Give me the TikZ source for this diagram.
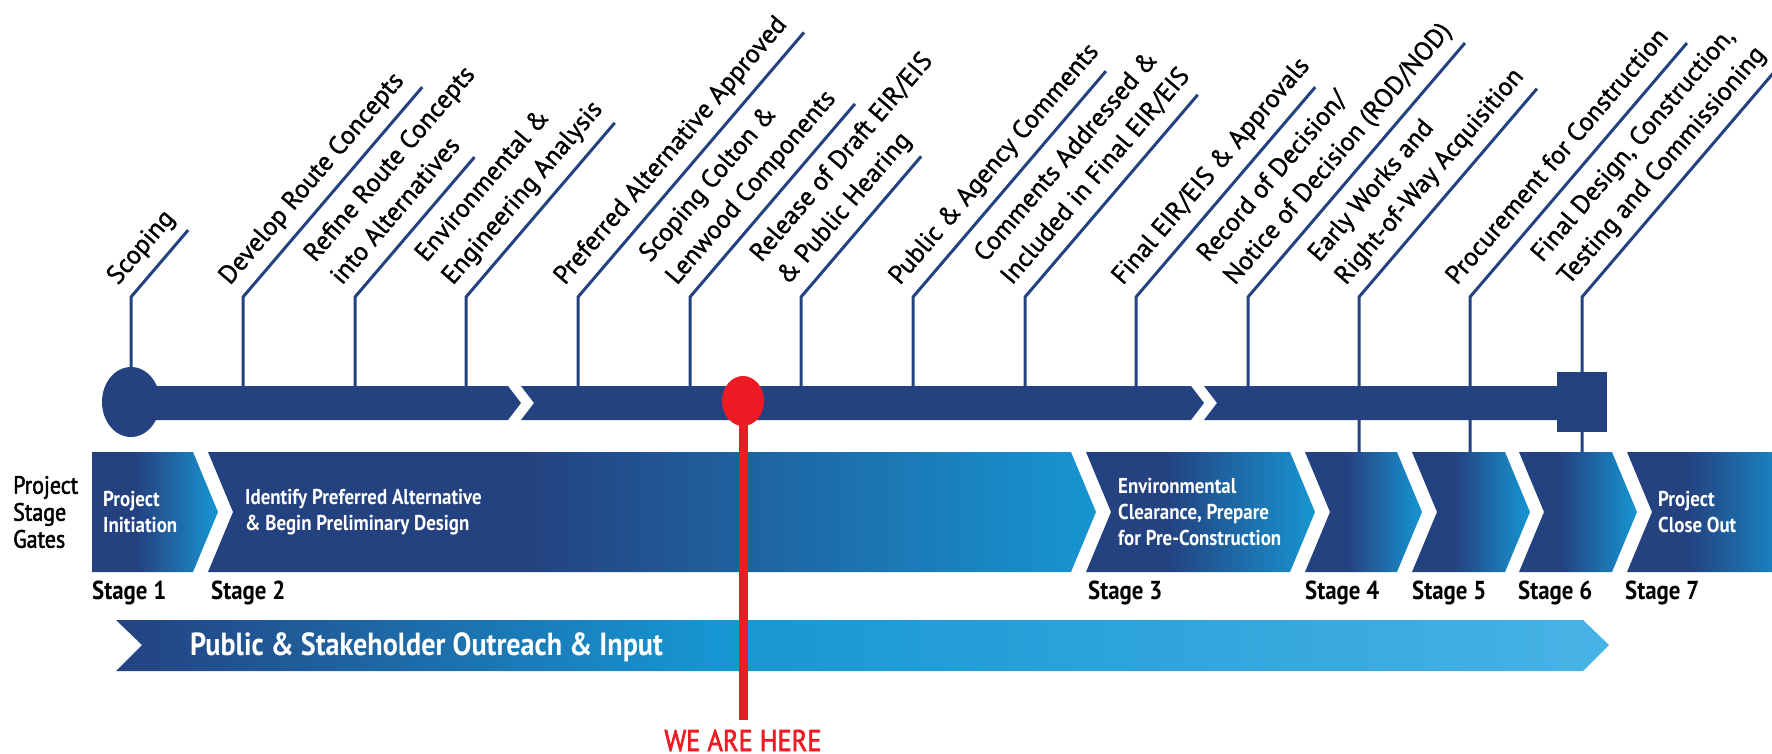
\documentclass[tikz,border=0pt]{standalone}
\usepackage{fontspec}
\setmainfont{PT Sans}
\newfontfamily\condfont[FakeStretch=0.88]{PT Sans}
\newfontfamily\semicond[FakeStretch=0.88, FakeBold=2]{PT Sans}
\newfontfamily\lblfont[FakeBold=1.2]{PT Sans}
\usetikzlibrary{calc}

\definecolor{navy}{RGB}{36,66,128}
\definecolor{tipblue}{RGB}{22,150,210}
\definecolor{skyblue}{RGB}{72,179,229}
\definecolor{herered}{RGB}{237,28,36}

\pgfdeclarehorizontalshading{gatefade}{100bp}{color(0bp)=(navy); color(25bp)=(navy); color(43bp)=(navy); color(75bp)=(tipblue); color(100bp)=(tipblue)}
\pgfdeclarehorizontalshading{reachfade}{100bp}{color(0bp)=(navy); color(25bp)=(navy); color(45bp)=(tipblue); color(75bp)=(skyblue); color(100bp)=(skyblue)}

\tikzset{
  stem/.style={navy, line width=3pt},
  lbl/.style={rotate=49.5, anchor=south west, yshift=6.5pt, inner sep=0pt, align=left,
    font=\lblfont\fontsize{26}{35}\selectfont, execute at end node=\strut},
  gatetext/.style={anchor=west, inner sep=0pt, align=left, text=white,
    font=\condfont\bfseries\fontsize{21.5}{26}\selectfont},
  stagelbl/.style={anchor=base west, inner sep=0pt, font=\condfont\bfseries\fontsize{26}{30}\selectfont},
}

\begin{document}
\begin{tikzpicture}[x=1pt,y=1pt]
  \useasboundingbox (0,0) rectangle (1772,-754);
  \clip (0,0) rectangle (1772,-754);
  \path
    (131,-297) coordinate (e1)
    (243,-297) coordinate (e2)
    (355,-297) coordinate (e3)
    (466,-297) coordinate (e4)
    (578,-297) coordinate (e5)
    (690,-297) coordinate (e6)
    (801,-297) coordinate (e7)
    (913,-297) coordinate (e8)
    (1025,-297) coordinate (e9)
    (1136,-297) coordinate (e10)
    (1248,-297) coordinate (e11)
    (1359,-297) coordinate (e12)
    (1470,-297) coordinate (e13)
    (1582,-297) coordinate (e14);
  \path
    (131,-403) coordinate (b1)
    (243,-403) coordinate (b2)
    (355,-403) coordinate (b3)
    (466,-403) coordinate (b4)
    (578,-403) coordinate (b5)
    (690,-403) coordinate (b6)
    (801,-403) coordinate (b7)
    (913,-403) coordinate (b8)
    (1025,-403) coordinate (b9)
    (1136,-403) coordinate (b10)
    (1248,-403) coordinate (b11)
    (1359,-452) coordinate (b12)
    (1470,-452) coordinate (b13)
    (1582,-452) coordinate (b14);
  \begin{scope}[stem]
    \draw (b1) -- (e1) -- ++(49.5:88);
    \draw (b2) -- (e2) -- ++(49.5:276);
    \draw (b3) -- (e3) -- ++(49.5:184);
    \draw (b4) -- (e4) -- ++(49.5:229);
    \draw (b5) -- (e5) -- ++(49.5:348);
    \draw (b6) -- (e6) -- ++(49.5:254);
    \draw (b7) -- (e7) -- ++(49.5:185);
    \draw (b8) -- (e8) -- ++(49.5:297);
    \draw (b9) -- (e9) -- ++(49.5:266);
    \draw (b10) -- (e10) -- ++(49.5:276);
    \draw (b11) -- (e11) -- ++(49.5:334);
    \draw (b12) -- (e12) -- ++(49.5:274);
    \draw (b13) -- (e13) -- ++(49.5:334);
    \draw (b14) -- (e14) -- ++(49.5:320);
  \end{scope}
  \node[lbl] (scoping) at (e1) {Scoping};
  \node[lbl] (develop) at (e2) {Develop Route Concepts};
  \node[lbl] (refine) at (e3) {Refine Route Concepts\\into Alternatives};
  \node[lbl] (envir) at (e4) {Environmental \&\\Engineering Analysis};
  \node[lbl] (preferred) at (e5) {Preferred Alternative Approved};
  \node[lbl] (colton) at (e6) {Scoping Colton \&\\Lenwood Components};
  \node[lbl] (release) at (e7) {Release of Draft EIR/EIS\\\& Public Hearing};
  \node[lbl] (pubcomm) at (e8) {Public \& Agency Comments};
  \node[lbl] (addressed) at (e9) {Comments Addressed \&\\Included in Final EIR/EIS};
  \node[lbl] (finaleir) at (e10) {Final EIR/EIS \& Approvals};
  \node[lbl] (record) at (e11) {Record of Decision/\\Notice of Decision (ROD/NOD)};
  \node[lbl] (earlyworks) at (e12) {Early Works and\\Right-of-Way Acquisition};
  \node[lbl] (procure) at (e13) {Procurement for Construction};
  \node[lbl] (finaldesign) at (e14) {Final Design, Construction,\\Testing and Commissioning};

  \fill[navy] (131,-402) ellipse [x radius=29, y radius=35];
  \fill[navy] (131,-386) -- (508,-386) -- (521,-403) -- (508,-420) -- (131,-420) -- cycle;
  \fill[navy] (521,-386) -- (1191,-386) -- (1204,-403) -- (1191,-420) -- (521,-420) -- (534,-403) -- cycle;
  \fill[navy] (1204,-386) -- (1590,-386) -- (1590,-420) -- (1204,-420) -- (1217,-403) -- cycle;
  \fill[navy] (1557,-372) rectangle (1607,-432);

  \shade[shading=gatefade] (92,-452) -- (193,-452) -- (218,-512) -- (193,-572) -- (92,-572) -- cycle;
  \shade[shading=gatefade] (208,-452) -- (1071,-452) -- (1096,-512) -- (1071,-572) -- (208,-572) -- (233,-512) -- cycle;
  \shade[shading=gatefade] (1086,-452) -- (1290,-452) -- (1315,-512) -- (1290,-572) -- (1086,-572) -- (1111,-512) -- cycle;
  \shade[shading=gatefade] (1305,-452) -- (1397,-452) -- (1422,-512) -- (1397,-572) -- (1305,-572) -- (1330,-512) -- cycle;
  \shade[shading=gatefade] (1412,-452) -- (1505,-452) -- (1530,-512) -- (1505,-572) -- (1412,-572) -- (1437,-512) -- cycle;
  \shade[shading=gatefade] (1519,-452) -- (1612,-452) -- (1637,-512) -- (1612,-572) -- (1519,-572) -- (1544,-512) -- cycle;
  \shade[shading=gatefade] (1627,-452) -- (1800,-452) -- (1800,-572) -- (1627,-572) -- (1652,-512) -- cycle;

  \node[anchor=west, inner sep=0pt, align=left, font=\semicond\fontsize{25}{27}\selectfont] (gates) at (13,-512) {Project\\Stage\\Gates};
  \node[gatetext] (initiation) at (103,-512) {Project\\Initiation};
  \node[gatetext] (identify) at (245,-512) {Identify Preferred Alternative\\\& Begin Preliminary Design};
  \node[gatetext] (clearance) at (1118,-512) {Environmental\\Clearance, Prepare\\for Pre-Construction};
  \node[gatetext] (closeout) at (1658,-512) {Project\\Close Out};

  \node[stagelbl] (stage1) at (92,-599) {Stage 1};
  \node[stagelbl] (stage2) at (211,-599) {Stage 2};
  \node[stagelbl] (stage3) at (1088,-599) {Stage 3};
  \node[stagelbl] (stage4) at (1305,-599) {Stage 4};
  \node[stagelbl] (stage5) at (1412,-599) {Stage 5};
  \node[stagelbl] (stage6) at (1518,-599) {Stage 6};
  \node[stagelbl] (stage7) at (1625,-599) {Stage 7};

  \shade[shading=reachfade] (116,-620) -- (1583,-620) -- (1609,-645) -- (1583,-671) -- (116,-671) -- (142,-645) -- cycle;
  \node[anchor=base west, inner sep=0pt, text=white, font=\condfont\bfseries\fontsize{32}{36}\selectfont] (outreach) at (190,-655) {Public \& Stakeholder Outreach \& Input};

  \coordinate (here) at (743,-401);
  \node[anchor=base, inner sep=0pt, outer sep=10pt, text=herered, font=\semicond\fontsize{30}{36}\selectfont] (wearehere) at (743,-751) {WE ARE HERE};
  \draw[herered, line width=9pt] (here) -- (wearehere.north);
  \fill[herered] (here) ellipse [x radius=21, y radius=25];
\end{tikzpicture}
\end{document}
